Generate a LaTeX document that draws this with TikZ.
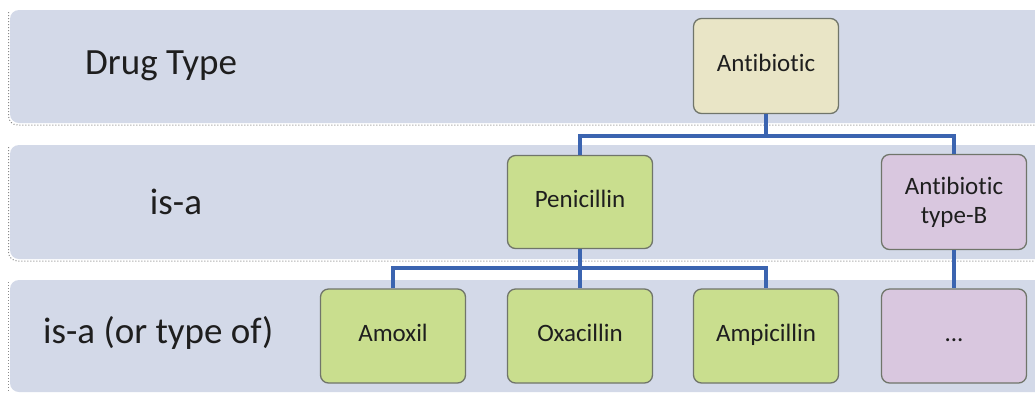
\documentclass[tikz,border=0pt]{standalone}
\usepackage{fontspec}
\setmainfont[Ligatures=NoCommon]{Carlito}
\definecolor{bandfill}{HTML}{D3D9E8}
\definecolor{bandedge}{HTML}{8A8A8A}
\definecolor{beigefill}{HTML}{E9E5C6}
\definecolor{greenfill}{HTML}{C9DE8E}
\definecolor{purplefill}{HTML}{D9C7DF}
\definecolor{boxedge}{HTML}{70756A}
\definecolor{connblue}{HTML}{3B64B0}
\definecolor{txt}{HTML}{1E1E1E}
\begin{document}
\begin{tikzpicture}[x=1pt,y=-1pt,
  band/.style={fill=bandfill, draw=none, rounded corners=9pt},
  bandline/.style={draw=bandedge, dotted, line width=1pt, rounded corners=9pt},
  box/.style={draw=boxedge, line width=1.3pt, rounded corners=8pt, minimum width=145pt, minimum height=94pt, inner sep=2pt, align=center, text=txt, font=\fontsize{25}{29}\selectfont},
  oneline/.style={text height=17pt, text depth=6pt},
  bandlabel/.style={text=txt, font=\fontsize{37}{42}\selectfont, inner sep=0pt},
  conn/.style={draw=connblue, line width=3.5pt}]
\useasboundingbox (0,0) rectangle (1035,392);
\fill[white] (0,0) rectangle (1035,392);
\begin{scope}
\clip (0,0) rectangle (1035,392);
\fill[band] (10,10) rectangle (1060,123);
\draw[bandline] (8.5,12) -- (8.5,125) -- (1060,125);
\fill[band] (10,145) rectangle (1060,259);
\draw[bandline] (8.5,147) -- (8.5,261) -- (1060,261);
\fill[band] (10,280) rectangle (1060,392);
\draw[bandline] (8.5,282) -- (8.5,393);
\end{scope}

\node[bandlabel, anchor=west] (l1) at (85,66) {Drug Type};
\node[bandlabel] (l2) at (176,202) {is-a};
\node[bandlabel, anchor=west] (l3) at (43,333) {is-a (or type of)};

\node[box, oneline, fill=beigefill, minimum height=95pt] (ab) at (766,66) {Antibiotic};
\node[box, oneline, fill=greenfill, minimum height=93pt] (pen) at (580,202) {Penicillin};
\node[box, fill=purplefill, minimum height=95pt] (tb) at (954,202) {Antibiotic\\type-B};
\node[box, oneline, fill=greenfill] (amox) at (393,336) {Amoxil};
\node[box, oneline, fill=greenfill] (oxa) at (580,336) {Oxacillin};
\node[box, oneline, fill=greenfill] (ampi) at (766,336) {Ampicillin};
\node[box, oneline, fill=purplefill] (more) at (954,336) {...};

\coordinate (j1) at (766,136);
\coordinate (j2) at (580,268);
\draw[conn] (ab.south) -- (j1);
\draw[conn] (pen.north) |- (j1) -| (tb.north);
\draw[conn] (pen.south) -- (j2);
\draw[conn] (amox.north) |- (j2) -| (ampi.north);
\draw[conn] (j2) -- (oxa.north);
\draw[conn] (tb.south) -- (more.north);
\end{tikzpicture}
\end{document}
